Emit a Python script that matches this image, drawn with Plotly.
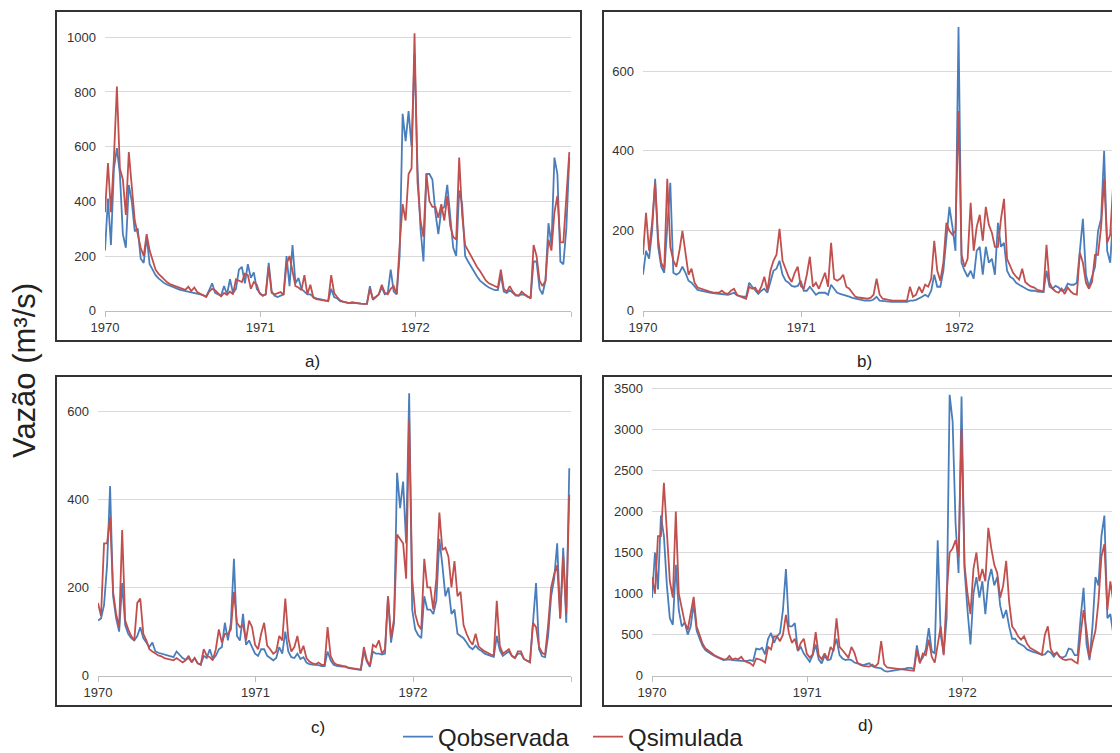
import pandas as pd
import plotly.graph_objects as go

# weekly readings, 1970-01-01 .. 1972-12-28 (157 points)
weeks = pd.date_range("1970-01-01", periods=157, freq="7D")

a_obs = [220, 410, 240, 520, 595, 500, 280, 230, 460, 400,
         290, 300, 190, 175, 270, 170, 150, 130, 118, 108,
         100, 95, 90, 85, 80, 77, 74, 72, 70, 68,
         66, 63, 60, 57, 52, 75, 100, 65, 60, 55,
         90, 60, 115, 65, 80, 150, 160, 100, 170, 120,
         140, 80, 65, 55, 60, 175, 70, 55, 50, 55,
         60, 200, 90, 240, 100, 120, 80, 70, 60, 60,
         50, 45, 42, 40, 38, 36, 80, 50, 45, 35,
         32, 30, 28, 30, 28, 27, 26, 25, 25, 90,
         40, 50, 60, 85, 60, 65, 150, 70, 60, 200,
         720, 620, 730, 600, 940, 520, 300, 180, 500, 500,
         480, 360, 280, 370, 380, 460, 330, 230, 200, 440,
         390, 200, 180, 160, 140, 125, 110, 100, 92, 85,
         80, 75, 75, 130, 70, 65, 75, 65, 55, 55,
         60, 58, 50, 48, 180, 180, 80, 60, 110, 320,
         240, 560, 500, 180, 170, 300, 560]
a_sim = [360, 540, 360, 560, 820, 520, 480, 350, 580, 440,
         330, 280, 230, 200, 280, 220, 185, 150, 135, 125,
         112, 103, 96, 92, 88, 84, 80, 76, 88, 72,
         85, 68, 62, 57, 50, 70, 80, 75, 65, 52,
         65, 58, 70, 60, 115, 110, 105, 135, 130, 80,
         105, 95, 62, 55, 60, 160, 65, 60, 65, 68,
         58, 170, 200, 150, 90, 85, 75, 130, 60, 95,
         48, 42, 40, 38, 36, 35, 130, 65, 50, 38,
         33, 30, 28, 30, 28, 27, 26, 25, 25, 80,
         45, 50, 60, 95, 65, 60, 80, 90, 60, 240,
         390, 330, 500, 520, 1015, 470, 330, 270, 500, 400,
         380, 380, 340, 390, 330, 420, 310, 270, 260, 560,
         350, 240, 220, 195, 175, 160, 145, 125, 110, 100,
         95, 88, 85, 150, 80, 70, 90, 70, 58, 55,
         70, 60, 52, 45, 240, 200, 110, 90, 110, 260,
         220, 360, 420, 250, 250, 420, 580]

b_obs = [90, 150, 130, 200, 330, 160, 110, 95, 210, 320,
         95, 90, 95, 110, 95, 75, 70, 60, 52, 50,
         48, 46, 45, 44, 43, 42, 42, 41, 40, 42,
         45, 38, 36, 35, 35, 70, 60, 52, 42, 50,
         55, 45, 70, 100, 105, 125, 90, 75, 70, 62,
         60, 62, 75, 50, 50, 60, 50, 40, 45, 45,
         45, 40, 65, 55, 45, 42, 40, 38, 35, 32,
         30, 28, 26, 25, 25, 25, 28, 35, 25, 24,
         23, 23, 22, 22, 22, 22, 22, 22, 25, 25,
         27, 30, 35, 40, 35, 50, 90, 60, 60, 100,
         180, 260, 210, 150, 710, 120, 100, 85, 100, 80,
         150, 160, 90, 160, 120, 130, 90, 220, 160, 170,
         100, 85, 80, 70, 65, 60, 55, 52, 50, 50,
         48, 48, 47, 100, 60, 55, 62, 58, 50, 52,
         68, 65, 65, 70, 160, 230, 90, 60, 85, 110,
         200, 230, 400, 150, 120, 240, 460]
b_sim = [140, 245, 150, 220, 320, 180, 120, 105, 330, 160,
         125, 110, 150, 200, 145, 90, 105, 70, 58, 55,
         52, 50, 48, 46, 45, 45, 50, 44, 42, 50,
         55, 40, 36, 33, 30, 60, 55, 58, 45, 60,
         85, 50, 100, 125, 140, 205, 125, 105, 85, 72,
         95, 110, 62, 55, 90, 135, 60, 70, 55, 75,
         95, 60, 170, 80, 75, 80, 90, 60, 55, 45,
         35, 33, 32, 30, 30, 32, 40, 80, 40, 30,
         28, 27, 26, 25, 25, 25, 25, 25, 60, 35,
         40, 60, 45, 65, 60, 80, 175, 100, 75, 120,
         220, 200, 190, 200, 500, 140, 110, 130, 270, 150,
         210, 240, 175, 260, 215, 195, 160, 160, 230, 280,
         130, 110, 95, 85, 78, 105, 72, 65, 60, 58,
         52, 50, 48, 165, 70, 55, 48, 45, 55, 42,
         58, 48, 42, 40, 145, 120, 70, 55, 72, 140,
         140, 210, 330, 170, 190, 320, 380]

c_obs = [125, 130, 160, 250, 430, 180, 130, 100, 210, 115,
         95, 85, 80, 90, 110, 85, 75, 65, 75, 55,
         52, 50, 48, 45, 44, 42, 55, 48, 40, 36,
         40, 32, 40, 28, 25, 45, 40, 60, 38, 45,
         60, 65, 120, 80, 120, 265, 90, 80, 140, 70,
         80, 65, 50, 45, 60, 60, 45, 40, 35, 40,
         65, 50, 100, 55, 42, 40, 50, 38, 42, 30,
         26, 25, 25, 24, 22, 22, 55, 35, 25, 22,
         21, 20, 20, 17, 16, 15, 14, 13, 55, 32,
         20, 55, 50, 50, 48, 50, 180, 75, 120, 460,
         380, 440, 300, 640, 150, 105, 92, 85, 180, 150,
         150, 140, 170, 310, 250, 180, 200, 140, 150, 95,
         90, 85, 75, 65, 60, 68, 60, 56, 50, 47,
         45, 43, 90, 58, 45, 50, 55, 45, 40, 50,
         50, 38, 34, 32, 130, 210, 60, 44, 42, 90,
         180, 220, 300, 130, 290, 120, 470]
c_sim = [165, 135, 300, 300, 360, 190, 140, 110, 330, 125,
         105, 90, 80, 165, 175, 95, 80, 60, 55, 50,
         46, 44, 40, 38, 36, 35, 40, 34, 30, 35,
         45, 30, 40, 28, 25, 60, 45, 42, 35, 60,
         105, 75, 95, 95, 105, 190, 120, 110, 115, 80,
         125, 110, 70, 60, 95, 120, 68, 60, 50, 55,
         90, 80, 175, 85, 55, 65, 90, 50, 68, 40,
         32, 28, 26, 30, 25, 24, 110, 45, 30, 25,
         23, 22, 21, 18, 17, 16, 15, 14, 65, 35,
         22, 70, 65, 80, 50, 60, 180, 85, 130, 320,
         310, 300, 220, 580, 220, 140, 115, 105, 265, 200,
         200, 150, 220, 370, 285, 290, 270, 200, 260, 180,
         190, 115, 95, 80, 70, 95, 66, 60, 55, 52,
         48, 46, 170, 68, 50, 55, 60, 45, 40, 55,
         55, 38, 33, 30, 120, 110, 65, 52, 48, 115,
         200, 230, 250, 130, 270, 140, 410]

d_obs = [950, 1500, 1050, 1950, 1700, 1100, 700, 620, 1350, 800,
         600, 650, 500, 600, 880, 550, 450, 360, 310, 280,
         260, 240, 220, 200, 190, 195, 200, 190, 185, 180,
         180, 180, 180, 190, 180, 330, 320, 340, 260, 450,
         520, 400, 480, 520, 800, 1300, 600, 600, 640, 300,
         350, 270, 220, 170, 250, 380, 200, 150, 240, 190,
         200, 320, 450, 250, 210, 190, 200, 190, 160, 150,
         140, 130, 140, 150, 115, 100, 95, 90, 60, 50,
         55, 60, 65, 70, 75, 85, 95, 95, 80, 370,
         170, 220, 320, 580, 300, 270, 1650, 500, 270, 700,
         3420, 3100, 1850, 1250, 3400, 1300, 800, 380, 1000, 1200,
         950, 1150, 750, 1150, 1300, 1100, 1200, 850, 700, 800,
         600, 450, 450, 400, 380, 360, 320, 300, 290, 280,
         270, 255, 260, 300, 280, 230, 280, 230, 220, 240,
         330, 320, 250, 250, 700, 1070, 380, 190, 600, 1200,
         1100, 1700, 1950, 700, 750, 500, 2250]
d_sim = [1200, 1000, 1700, 1700, 2350, 1700, 1150, 950, 2000, 1000,
         800, 650, 560, 750, 960, 600, 500, 390, 330, 300,
         270, 250, 230, 210, 200, 200, 240, 195, 210, 200,
         230, 180, 165, 150, 120, 210, 200, 185, 160, 350,
         320, 480, 480, 420, 500, 740, 520, 400, 450, 310,
         400, 450, 270, 220, 260, 530, 250, 200, 270, 200,
         350, 300, 700, 350, 310, 260, 220, 350, 280, 160,
         130, 120, 115, 110, 135, 110, 150, 420, 140, 100,
         95, 90, 85, 80, 75, 70, 65, 60, 60, 310,
         150, 270, 250, 440, 230, 160, 400, 600, 250, 1000,
         1500, 1550, 1650, 1450, 3000, 1350, 1000, 750, 1300, 1500,
         1150, 1300, 1150, 1800, 1550, 1350, 1250, 950, 1100, 1400,
         900, 600, 550, 480, 440, 480, 390, 340, 320, 300,
         275, 255, 500, 600, 320, 260, 280, 230, 200, 190,
         200, 200, 170, 150, 500, 800, 550, 220, 400, 550,
         900, 1450, 1600, 800, 1150, 900, 1700]

year_ticks = ["1970-01-01", "1971-01-01", "1972-01-01", "1973-01-01"]
year_labels = ["1970", "1971", "1972", ""]

# the page body keeps its default 8px margin, so the figure is drawn 8px smaller and
# every screen position below is shifted by that offset
OFF = 8
W, H = 1120 - OFF, 753 - OFF
FONT = "Liberation Sans, Arial, sans-serif"
BLUE = "#4a7ebb"
RED = "#c0504d"


def px(sx):
    return (sx - OFF) / W


def py(sy):
    return 1 - (sy - OFF) / H


# panel geometry in screen pixels: plot left/right, zero line, a reference gridline, y max, frame box
panels = [
    dict(obs=a_obs, sim=a_sim, x0=105, x1=571, y0=310.7, ref=(1000, 37.3), ymax=1060, dtick=200,
         frame=(56, 11, 581, 341), label="a)", lab=(312, 361)),
    dict(obs=b_obs, sim=b_sim, x0=643, x1=1118, y0=310.7, ref=(600, 71), ymax=730, dtick=200,
         frame=(603, 11, 1135, 341), label="b)", lab=(864, 361)),
    dict(obs=c_obs, sim=c_sim, x0=98, x1=571, y0=675.7, ref=(600, 411), ymax=660, dtick=200,
         frame=(56, 376, 581, 706), label="c)", lab=(318, 727)),
    dict(obs=d_obs, sim=d_sim, x0=652, x1=1118, y0=675.7, ref=(3500, 388.3), ymax=3600, dtick=500,
         frame=(603, 376, 1135, 706), label="d)", lab=(865, 725)),
]

fig = go.Figure()
layout = {}
shapes = []
annotations = []

for i, p in enumerate(panels, start=1):
    suffix = "" if i == 1 else str(i)
    scale = (p["y0"] - p["ref"][1]) / p["ref"][0]
    top = p["y0"] - p["ymax"] * scale

    fig.add_trace(go.Scatter(
        x=weeks, y=p["obs"], name="Qobservada", mode="lines",
        line=dict(color=BLUE, width=1.8), legendgroup="obs", showlegend=(i == 1),
        xaxis="x" + suffix, yaxis="y" + suffix,
    ))
    fig.add_trace(go.Scatter(
        x=weeks, y=p["sim"], name="Qsimulada", mode="lines",
        line=dict(color=RED, width=1.8), legendgroup="sim", showlegend=(i == 1),
        xaxis="x" + suffix, yaxis="y" + suffix,
    ))

    layout["xaxis" + suffix] = dict(
        domain=[px(p["x0"]), min(px(p["x1"]), 1)], anchor="y" + suffix, type="date",
        range=["1970-01-01", "1973-01-01"], tickmode="array",
        tickvals=year_ticks, ticktext=year_labels, showgrid=False,
        showline=True, linecolor="#bdbdbd", linewidth=1,
        ticks="outside", ticklen=5, tickcolor="#bdbdbd",
        tickfont=dict(size=13, color="#333"), zeroline=False, automargin=False,
    )
    layout["yaxis" + suffix] = dict(
        domain=[py(p["y0"]), py(top)], anchor="x" + suffix,
        range=[0, p["ymax"]], dtick=p["dtick"], tick0=0,
        showgrid=True, gridcolor="#d9d9d9", gridwidth=1, zeroline=False,
        showline=False, ticks="", ticklabelstandoff=8,
        tickfont=dict(size=13, color="#333"), automargin=False,
    )

    fx0, fy0, fx1, fy1 = p["frame"]
    shapes.append(dict(type="rect", xref="paper", yref="paper",
                       x0=px(fx0), x1=px(fx1), y0=py(fy1), y1=py(fy0),
                       line=dict(color="#333", width=2), layer="above"))
    annotations.append(dict(text=p["label"], x=px(p["lab"][0]), y=py(p["lab"][1]),
                            xref="paper", yref="paper", showarrow=False,
                            xanchor="center", yanchor="middle",
                            font=dict(size=17, color="#222", family=FONT)))

annotations.append(dict(text="Vazão (m³/s)", x=px(24), y=py(371), xref="paper", yref="paper",
                        showarrow=False, textangle=-90, xanchor="center", yanchor="middle",
                        font=dict(size=31, color="#222", family=FONT)))

fig.update_layout(
    width=W, height=H, margin=dict(l=0, r=0, t=0, b=0, autoexpand=False),
    paper_bgcolor="white", plot_bgcolor="white",
    font=dict(family=FONT, color="#222"),
    shapes=shapes, annotations=annotations,
    legend=dict(orientation="h", x=px(398), xanchor="left", y=py(737), yanchor="middle",
                font=dict(size=24, color="#222"), entrywidth=145, entrywidthmode="pixels",
                bgcolor="rgba(0,0,0,0)"),
    showlegend=True,
    **layout,
)

fig.write_html("out.html")
